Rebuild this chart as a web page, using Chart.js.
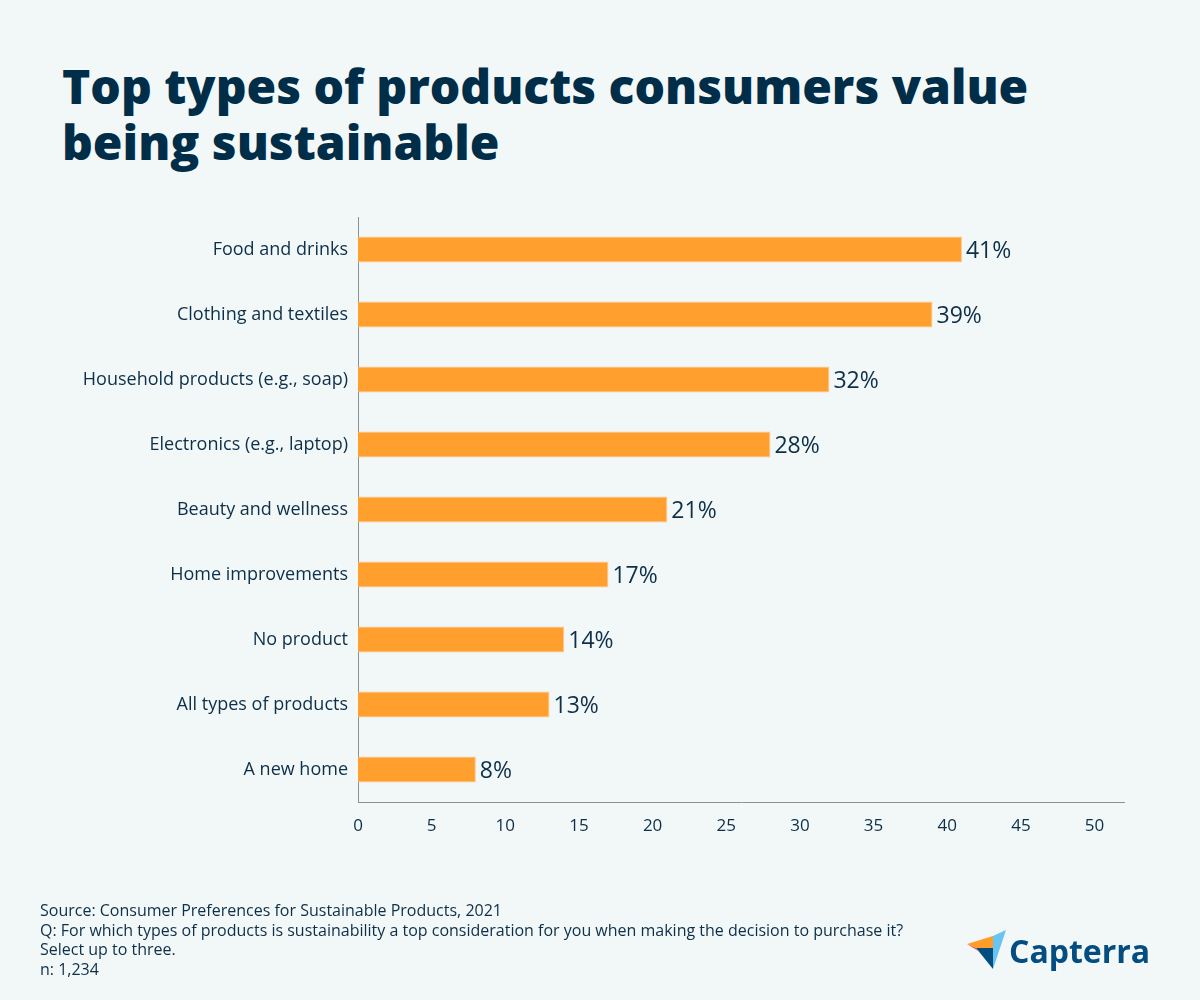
<!DOCTYPE html>
<html>
<head>
<meta charset="utf-8">
<script src="https://cdn.jsdelivr.net/npm/chart.js@4/dist/chart.umd.min.js"></script>
<style>
  html, body { margin: 0; padding: 0; }
  body {
    width: 1200px;
    height: 1000px;
    background: #f2f7f8;
    position: relative;
    overflow: hidden;
    font-family: "Open Sans", sans-serif;
    color: #0d2f48;
  }
  #title {
    position: absolute;
    left: 62px;
    top: 58px;
    margin: 0;
    font-size: 48px;
    line-height: 56px;
    font-weight: 800;
    color: #002d48;
  }
  #chartBox {
    position: absolute;
    left: 0;
    top: 0;
    width: 1200px;
    height: 1000px;
  }
  #notes {
    position: absolute;
    left: 40px;
    top: 901px;
    font-size: 16px;
    line-height: 19.5px;
    color: #0d2f48;
  }
  #logo {
    position: absolute;
    left: 964px;
    top: 926px;
  }
</style>
</head>
<body>
<h1 id="title">Top types of products consumers value<br>being sustainable</h1>
<div id="chartBox"><canvas id="chart" width="1200" height="1000"></canvas></div>
<div id="notes">
  Source: Consumer Preferences for Sustainable Products, 2021<br>
  Q: For which types of products is sustainability a top consideration for you when making the decision to purchase it?<br>
  Select up to three.<br>
  n: 1,234
</div>
<svg id="logo" width="190" height="48" viewBox="0 0 190 48">
  <polygon points="3,18 29,10 29,22 12,22" fill="#ff9d28"/>
  <polygon points="29,10 42,4 29,43" fill="#68c5f2"/>
  <polygon points="12,22 29,22 29,43" fill="#044d80"/>
  <polygon points="3,18 12,22 16,26" fill="#ef4c4f"/>
  <text x="45" y="37" font-family="Open Sans" font-weight="700" font-size="32" fill="#044d80">Capterra</text>
</svg>

<script>
const categories = [
  "Food and drinks",
  "Clothing and textiles",
  "Household products (e.g., soap)",
  "Electronics (e.g., laptop)",
  "Beauty and wellness",
  "Home improvements",
  "No product",
  "All types of products",
  "A new home",
];

const shares = [41, 39, 32, 28, 21, 17, 14, 13, 8];

const tickValues = [0, 5, 10, 15, 20, 25, 30, 35, 40, 45, 50];

const navy = "#0d2f48";

// draws "41%" etc. just past the end of every bar
const valueLabels = {
  id: "valueLabels",
  afterDatasetsDraw(chart) {
    const { ctx } = chart;
    const meta = chart.getDatasetMeta(0);
    ctx.save();
    ctx.font = "23px 'Open Sans'";
    ctx.fillStyle = navy;
    ctx.textAlign = "left";
    ctx.textBaseline = "middle";
    meta.data.forEach((bar, i) => {
      ctx.fillText(shares[i] + "%", bar.x + 4, bar.y + 2);
    });
    ctx.restore();
  },
};

new Chart(document.getElementById("chart"), {
  type: "bar",
  data: {
    labels: categories,
    datasets: [
      {
        data: shares,
        backgroundColor: "#ff9f2d",
        borderColor: "#ffc58a",
        borderWidth: 1,
        borderSkipped: "start",
        barPercentage: 0.4,
        categoryPercentage: 1,
      },
    ],
  },
  options: {
    indexAxis: "y",
    responsive: false,
    animation: false,
    devicePixelRatio: 1,
    layout: { padding: { top: 217, right: 76, left: 0, bottom: 0 } },
    plugins: {
      legend: { display: false },
      tooltip: { enabled: false },
    },
    scales: {
      x: {
        min: 0,
        max: 52,
        afterBuildTicks: (axis) => {
          axis.ticks = tickValues.map((v) => ({ value: v }));
        },
        afterFit: (axis) => {
          axis.height = 198;
        },
        grid: { display: false, drawTicks: false },
        border: { color: "#8c9196", width: 1 },
        ticks: {
          padding: 14,
          color: navy,
          font: { family: "Open Sans", size: 17 },
        },
      },
      y: {
        afterFit: (axis) => {
          axis.width = 358;
        },
        grid: { display: false, drawTicks: false },
        border: { color: "#8c9196", width: 1 },
        ticks: {
          padding: 10,
          color: navy,
          font: { family: "Open Sans", size: 18 },
        },
      },
    },
  },
  plugins: [valueLabels],
});
</script>
</body>
</html>
